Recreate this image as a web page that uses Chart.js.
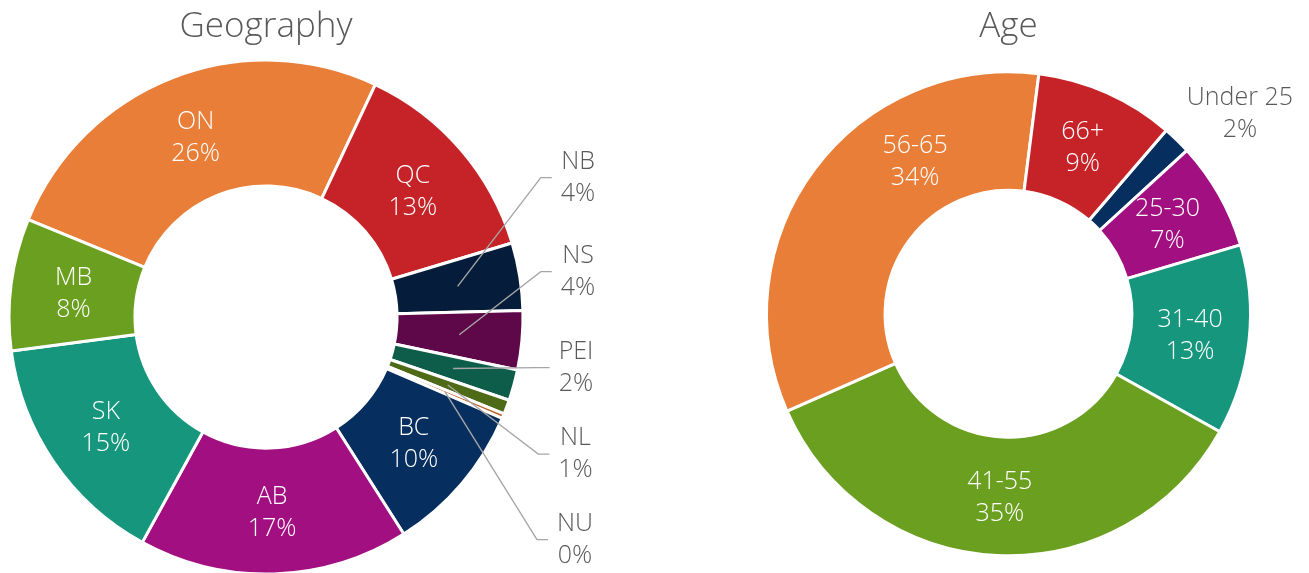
<!DOCTYPE html>
<html><head><meta charset="utf-8">
<script src="https://cdn.jsdelivr.net/npm/chart.js@4.4.1/dist/chart.umd.min.js"></script>
<style>
html,body{margin:0;padding:0;background:#fff;overflow:hidden;width:1309px;height:573px;}
.box{position:absolute;top:0;height:573px;}
#geoBox{left:0;width:640px;}
#ageBox{left:740px;width:569px;}
canvas{display:block;}
</style></head><body>
<div class="box" id="geoBox"><canvas id="geo" width="640" height="573"></canvas></div>
<div class="box" id="ageBox"><canvas id="age" width="569" height="573"></canvas></div>
<script>
// ---- data ----
const geoCategories = ['ON','QC','NB','NS','PEI','NL','NU','BC','AB','SK','MB'];
const geoValues     = [25.8, 13.35, 4.25, 3.7, 1.95, 0.9, 0.3, 9.55, 17.0, 14.9, 8.3];
const ageCategories = ['Under 25','25-30','31-40','41-55','56-65','66+'];
const ageValues     = [1.9, 7.2, 12.7, 35.3, 33.6, 9.3];

// ---- styles ----
const geoColors = ['#E87E37','#C52327','#051D3A','#5F0849','#0E5D4B','#4F6A16','#C2652A','#062F5F','#A20F80','#16977D','#6A9F1F'];
const ageColors = ['#062F5F','#A20F80','#16977D','#6A9F1F','#E87E37','#C52327'];
const FONT = '"Open Sans", "Liberation Sans", sans-serif';

const sliceLabels = {
  id: 'sliceLabels',
  afterDatasetsDraw(chart, args, opts) {
    const ctx = chart.ctx;
    const meta = chart.getDatasetMeta(0);
    const ds = chart.data.datasets[0];
    const total = ds.data.reduce((a, b) => a + b, 0);
    ctx.save();
    ctx.font = `${opts.weight} ${opts.size}px ${FONT}`;
    ctx.textAlign = 'center';
    ctx.textBaseline = 'middle';
    meta.data.forEach((arc, i) => {
      const p = arc.getProps(['x','y','startAngle','endAngle','innerRadius','outerRadius'], true);
      const mid = (p.startAngle + p.endAngle) / 2;
      const r = (p.innerRadius + p.outerRadius) / 2;
      const ax = p.x + Math.cos(mid) * r, ay = p.y + Math.sin(mid) * r;
      const name = chart.data.labels[i];
      const lines = [name, Math.round(ds.data[i] * 100 / total) + '%'];
      const ext = (opts.outside || {})[name];
      let cx, cy, color;
      if (ext) {
        cx = p.x + ext.dx; cy = p.y + ext.dy; color = opts.outsideColor;
        if (ext.leader) {
          const w = Math.max(...lines.map(t => ctx.measureText(t).width));
          const left = cx - w / 2;
          ctx.strokeStyle = opts.leaderColor;
          ctx.lineWidth = 1.4;
          ctx.beginPath();
          ctx.moveTo(ax, ay);
          ctx.lineTo(left - 20, cy);
          ctx.lineTo(left - 9, cy);
          ctx.stroke();
        }
      } else {
        const s = (opts.shift || {})[name] || {dx: 0, dy: 0};
        cx = ax + s.dx; cy = ay + s.dy + 1.5; color = '#ffffff';
      }
      ctx.fillStyle = color;
      ctx.fillText(lines[0], cx, cy - opts.gap / 2);
      ctx.fillText(lines[1], cx, cy + opts.gap / 2);
    });
    ctx.restore();
  }
};

function makeChart(id, title, labels, values, colors, rotation, radius, padding, labelOpts) {
  return new Chart(document.getElementById(id), {
    type: 'doughnut',
    data: {
      labels: labels,
      datasets: [{
        data: values,
        backgroundColor: colors,
        borderColor: '#ffffff',
        borderWidth: 3,
        hoverOffset: 0,
        clip: false
      }]
    },
    options: {
      responsive: false,
      animation: false,
      devicePixelRatio: 1,
      rotation: rotation,
      radius: radius,
      cutout: '51%',
      layout: { padding: padding },
      events: [],
      plugins: {
        legend: { display: false },
        tooltip: { enabled: false },
        title: {
          display: true,
          text: title,
          color: '#595959',
          font: { family: FONT, size: 35, weight: '300', lineHeight: 1.2 },
          padding: { top: 6, bottom: 13.2 }
        },
        sliceLabels: labelOpts
      }
    },
    plugins: [sliceLabels]
  });
}

function build() {
  makeChart('geo', 'Geography', geoCategories, geoValues, geoColors, -67.7, 257,
    { left: 0, right: 108, top: 0, bottom: 0 },
    {
      size: 25, weight: '300', gap: 32,
      outsideColor: '#595959', leaderColor: '#A6A6A6',
      outside: {
        'NB':  { dx: 312, dy: -139.5, leader: true },
        'NS':  { dx: 312, dy: -45.5,  leader: true },
        'PEI': { dx: 310, dy: 50.5,   leader: true },
        'NL':  { dx: 309.5, dy: 137,  leader: true },
        'NU':  { dx: 309, dy: 222.5,  leader: true }
      }
    });
  makeChart('age', 'Age', ageCategories, ageValues, ageColors, 40.7, 242,
    { left: 0, right: 32, top: 0, bottom: 6.6 },
    {
      size: 25, weight: '300', gap: 32,
      outsideColor: '#595959', leaderColor: '#A6A6A6',
      outside: {
        'Under 25': { dx: 231.4, dy: -199.8, leader: false }
      },
      shift: {
        '56-65': { dx: 53, dy: -44 }
      }
    });
}

if (document.fonts && document.fonts.load) {
  Promise.all([
    document.fonts.load('300 25px "Open Sans"'),
    document.fonts.load('300 35px "Open Sans"')
  ]).then(build, build);
} else {
  build();
}
</script>
</body></html>
